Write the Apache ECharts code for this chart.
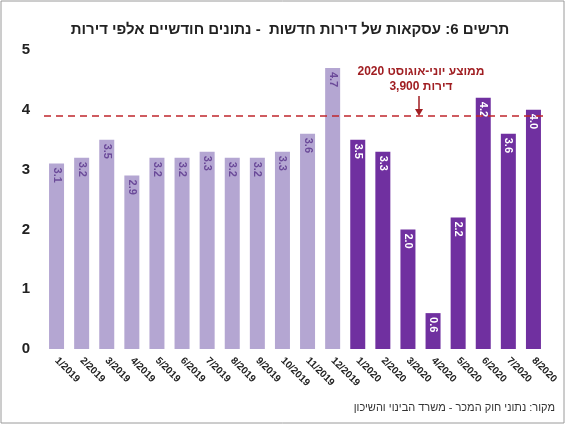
<!DOCTYPE html>
<html><head><meta charset="utf-8">
<script src="https://cdn.jsdelivr.net/npm/echarts@6/dist/echarts.min.js"></script>
<style>html,body{margin:0;padding:0;background:#fff}#c{width:566px;height:425px}</style>
</head><body><div id="c"></div>
<script>
const categories=['1/2019','2/2019','3/2019','4/2019','5/2019','6/2019','7/2019','8/2019','9/2019','10/2019','11/2019','12/2019','1/2020','2/2020','3/2020','4/2020','5/2020','6/2020','7/2020','8/2020'];
const values=[3.1,3.2,3.5,2.9,3.2,3.2,3.3,3.2,3.2,3.3,3.6,4.7,3.5,3.3,2.0,0.6,2.2,4.2,3.6,4.0];
const average=3.9;
const yTicks=[0,1,2,3,4,5];
const chart=echarts.init(document.getElementById('c'));
const font='Arial, Liberation Sans, sans-serif';
chart.setOption({
  animation:false,
  grid:{left:44,right:20,top:50,bottom:76},
  graphic:[
    {type:'rect',shape:{x:1,y:1,width:563,height:422},style:{fill:'none',stroke:'#9a9a9a',lineWidth:1}},
    {type:'text',x:290,y:30,style:{text:'תרשים 6: עסקאות של דירות חדשות  - נתונים חודשיים אלפי דירות',font:'bold 15px '+font,fill:'#222',align:'center',verticalAlign:'middle',direction:'rtl'}},
    {type:'text',x:421,y:72,style:{text:'ממוצע יוני-אוגוסט 2020',font:'bold 12px '+font,fill:'#a01e22',align:'center',verticalAlign:'middle',direction:'rtl'}},
    {type:'text',x:421,y:87,style:{text:'3,900 דירות',font:'bold 12px '+font,fill:'#a01e22',align:'center',verticalAlign:'middle',direction:'rtl'}},
    {type:'line',shape:{x1:419,y1:96,x2:419,y2:110},style:{stroke:'#a01e22',lineWidth:1.5}},
    {type:'polygon',shape:{points:[[415,109],[423,109],[419,116]]},style:{fill:'#a01e22'}},
    {type:'text',x:555,y:408,style:{text:'מקור: נתוני חוק המכר - משרד הבינוי והשיכון',font:'11px '+font,fill:'#333',align:'right',verticalAlign:'middle',direction:'rtl'}}
  ],
  xAxis:{type:'category',data:categories,axisTick:{show:false},axisLine:{show:false},
    axisLabel:{interval:0,rotate:-45,fontSize:10,fontWeight:'bold',color:'#222',fontFamily:font,margin:10}},
  yAxis:{type:'value',min:0,max:5,interval:1,splitLine:{show:false},axisLine:{show:false},axisTick:{show:false},
    axisLabel:{fontSize:15,fontWeight:'bold',color:'#222',fontFamily:font,margin:14,formatter:v=>yTicks.includes(v)?String(v):''}},
  series:[{type:'bar',barWidth:15,
    data:values.map((v,i)=>({value:v,itemStyle:{color:i<12?'#b4a6d2':'#7030a0'},
      label:{color:i<12?'#6b4a99':'#fff'}})),
    label:{show:true,position:'insideTop',rotate:-90,fontSize:11,fontWeight:'bold',fontFamily:font,
      formatter:p=>p.value.toFixed(1),distance:4,align:'left',verticalAlign:'middle'},
    markLine:{symbol:'none',silent:true,label:{show:false},
      lineStyle:{color:'#c0262c',type:[7,5],width:1.5},data:[{yAxis:average}]}
  }]
});
</script></body></html>
